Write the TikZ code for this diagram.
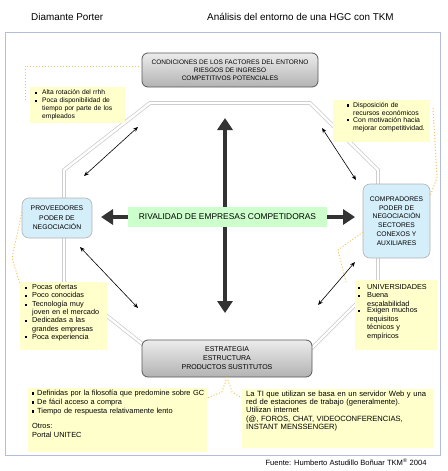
\documentclass[tikz,border=0pt]{standalone}
\usepackage{fontspec}
\setmainfont{Liberation Sans}
\usetikzlibrary{arrows.meta}
\definecolor{noteY}{HTML}{FFFFCC}
\definecolor{frameC}{HTML}{B4BCDC}
\definecolor{blueF}{HTML}{D4EEFA}
\definecolor{greenF}{HTML}{CCFFCC}
\definecolor{dotC}{HTML}{F2C45A}
\definecolor{arrC}{HTML}{333333}
\definecolor{octC}{HTML}{C8C8CC}
\newcommand\bsq{\rule[0.6pt]{2.2pt}{2.2pt}}
\newcommand\jl[1]{\makebox[\linewidth][s]{#1}}
\newcommand\itm[3]{\noindent\makebox[#1][l]{\bsq}\parbox[t]{#2}{#3}\par}
\begin{document}
\begin{tikzpicture}[x=1pt,y=-1pt,
  note/.style={fill=noteY, draw=none, inner sep=0, anchor=north west},
  ntext/.style={anchor=north west, inner sep=0, align=left},
  graybox/.style={draw=black!65, line width=0.8pt, rounded corners=6pt, top color=gray!15, bottom color=gray!60, align=center, inner sep=0},
  bluebox/.style={draw=gray!60, line width=0.6pt, rounded corners=7pt, fill=blueF, align=center, inner sep=0, font=\fontsize{6.8}{9.5}\selectfont},
  bigarrow/.style={line width=4.5pt, draw=arrC, {Triangle[length=12pt,width=15pt]}-{Triangle[length=12pt,width=15pt]}},
  thinarrow/.style={line width=0.6pt, {Stealth[length=5pt,width=4pt]}-{Stealth[length=5pt,width=4pt]}},
  dotline/.style={draw=dotC, line width=1pt, dotted},
]
\useasboundingbox (0,0) rectangle (447,471);
% header
\node[anchor=west, inner sep=0, font=\fontsize{9.9}{11}\selectfont] (h1) at (31,17) {Diamante Porter};
\node[anchor=west, inner sep=0, font=\fontsize{9.9}{11}\selectfont] (h2) at (207,17) {Análisis del entorno de una HGC con TKM};
% frame
\draw[frameC, line width=1pt] (5,32) rectangle (440,455);
% octagon
\draw[octC, line width=0.7pt, double=white, double distance=2.4pt]
  (150,103) -- (310,103) -- (378,170) -- (378,282) -- (310,350) -- (150,350) -- (64,282) -- (64,170) -- cycle;
% coordinates for arrows
\coordinate (vt) at (225,118);
\coordinate (vb) at (225,313);
\coordinate (hl) at (101,217);
\coordinate (hr) at (355,217);
\coordinate (tla) at (84,176);
\coordinate (tlb) at (138,127);
\coordinate (tra) at (322,128);
\coordinate (trb) at (356,180);
\coordinate (bla) at (80,247);
\coordinate (blb) at (138,308);
\coordinate (bra) at (318,305);
\coordinate (brb) at (355,262);
\draw[bigarrow] (vt) -- (vb);
\draw[bigarrow] (hl) -- (hr);
\draw[thinarrow] (tla) -- (tlb);
\draw[thinarrow] (tra) -- (trb);
\draw[thinarrow] (bla) -- (blb);
\draw[thinarrow] (bra) -- (brb);
% boxes
\node[graybox, minimum width=176pt, minimum height=34pt, font=\fontsize{6.5}{8}\selectfont] (top) at (230,70)
  {CONDICIONES DE LOS FACTORES DEL ENTORNO\\RIESGOS DE INGRESO\\COMPETITIVOS POTENCIALES};
\node[graybox, minimum width=170pt, minimum height=37pt, font=\fontsize{7}{9}\selectfont] (bot) at (227,358.5)
  {ESTRATEGIA\\ESTRUCTURA\\PRODUCTOS SUSTITUTOS};
\node[bluebox, minimum width=70pt, minimum height=40pt] (prov) at (57,218)
  {PROVEEDORES\\PODER DE\\NEGOCIACIÓN};
\node[bluebox, minimum width=67pt, minimum height=74pt, font=\fontsize{6.7}{8.8}\selectfont] (comp) at (396.5,221)
  {COMPRADORES\\PODER DE\\NEGOCIACIÓN\\SECTORES\\CONEXOS Y\\AUXILIARES};
\node[fill=greenF, minimum width=199pt, minimum height=20pt, inner sep=0, font=\fontsize{8.4}{10}\selectfont] (riv) at (227.5,217)
  {RIVALIDAD DE EMPRESAS COMPETIDORAS};
% dotted connectors
\coordinate (d1a) at (142,66);
\coordinate (d1b) at (25,66);
\coordinate (d1c) at (25,100);
\draw[dotline] (d1a) -- (d1b) -- (d1c);
\coordinate (d2a) at (433,108);
\coordinate (d2b) at (437,178);
\coordinate (d2c) at (430,196);
\draw[dotline] (d2a) -- (d2b) -- (d2c);
\coordinate (d3a) at (22,212);
\coordinate (d3b) at (12,258);
\coordinate (d3c) at (20,284);
\draw[dotline] (d3a) -- (d3b) -- (d3c);
\coordinate (d4a) at (363,232);
\coordinate (d4b) at (338,250);
\coordinate (d4c) at (346,282);
\draw[dotline] (d4a) -- (d4b) -- (d4c);
\coordinate (d5a) at (227,377);
\coordinate (d5b) at (222,392);
\coordinate (d5c) at (207,398);
\coordinate (d5d) at (232,392);
\coordinate (d5e) at (242,398);
\draw[dotline] (d5a) -- (d5b) -- (d5c);
\draw[dotline] (d5a) -- (d5d) -- (d5e);
% notes
\node[note, minimum width=95pt, minimum height=36pt] (n1) at (30,87) {};
\node[ntext, text width=87pt, font=\fontsize{6.7}{8}\selectfont] (t1) at (35,89.5) {%
\itm{7pt}{80pt}{Alta rotación del rrhh}%
\itm{7pt}{80pt}{\jl{Poca disponibilidad de}\\\jl{tiempo por parte de los}\\empleados}};
\node[note, minimum width=97pt, minimum height=42pt] (n2) at (333,100) {};
\node[ntext, text width=78pt, font=\fontsize{6.9}{8.6}\selectfont] (t2) at (347,102) {%
\itm{6pt}{72pt}{Disposición de\\recursos económicos}%
\itm{6pt}{72pt}{\jl{Con motivación hacia}\\mejorar competitividad.}};
\node[note, minimum width=87pt, minimum height=68pt] (n3) at (20,282) {};
\node[ntext, text width=84pt, font=\fontsize{7.3}{8.5}\selectfont] (t3) at (25,284) {%
\itm{7pt}{76pt}{Pocas ofertas}%
\itm{7pt}{76pt}{Poco conocidas}%
\itm{7pt}{76pt}{Tecnología muy\\joven en el mercado}%
\itm{7pt}{76pt}{Dedicadas a las\\grandes empresas}%
\itm{7pt}{76pt}{Poca experiencia}};
\node[note, minimum width=82pt, minimum height=70pt] (n4) at (355,280) {};
\node[ntext, text width=78pt, font=\fontsize{7.3}{8.5}\selectfont] (t4) at (358,284) {%
\itm{9pt}{69pt}{UNIVERSIDADES}%
\itm{9pt}{69pt}{Buena\\escalabilidad}%
\itm{9pt}{69pt}{Exigen muchos\\requisitos\\técnicos y\\empíricos}};
\node[note, minimum width=179pt, minimum height=64pt] (n5) at (28,388) {};
\node[ntext, text width=174pt, font=\fontsize{7.4}{9}\selectfont] (t5) at (32,389.5) {%
\itm{5pt}{169pt}{Definidas por la filosofía que predomine sobre GC}%
\itm{5pt}{169pt}{De fácil acceso a compra}%
\itm{5pt}{169pt}{Tiempo de respuesta relativamente lento}%
\vspace{6pt}\noindent Otros:\\Portal UNITEC};
\node[note, minimum width=192pt, minimum height=59pt] (n6) at (242,389) {};
\node[ntext, text width=188pt, font=\fontsize{7.6}{7.8}\selectfont] (t6) at (246,391) {%
La TI que utilizan se basa en un servidor Web y una\\
red de estaciones de trabajo (generalmente).\\
Utilizan internet\\[1.5pt]
(@, FOROS, CHAT, VIDEOCONFERENCIAS,\\
INSTANT MENSSENGER)};
% footer
\node[inner sep=0, font=\fontsize{7.6}{9}\selectfont] (foot) at (346,462) {Fuente: Humberto Astudillo Boñuar TKM\textsuperscript{®} 2004};
\end{tikzpicture}
\end{document}
